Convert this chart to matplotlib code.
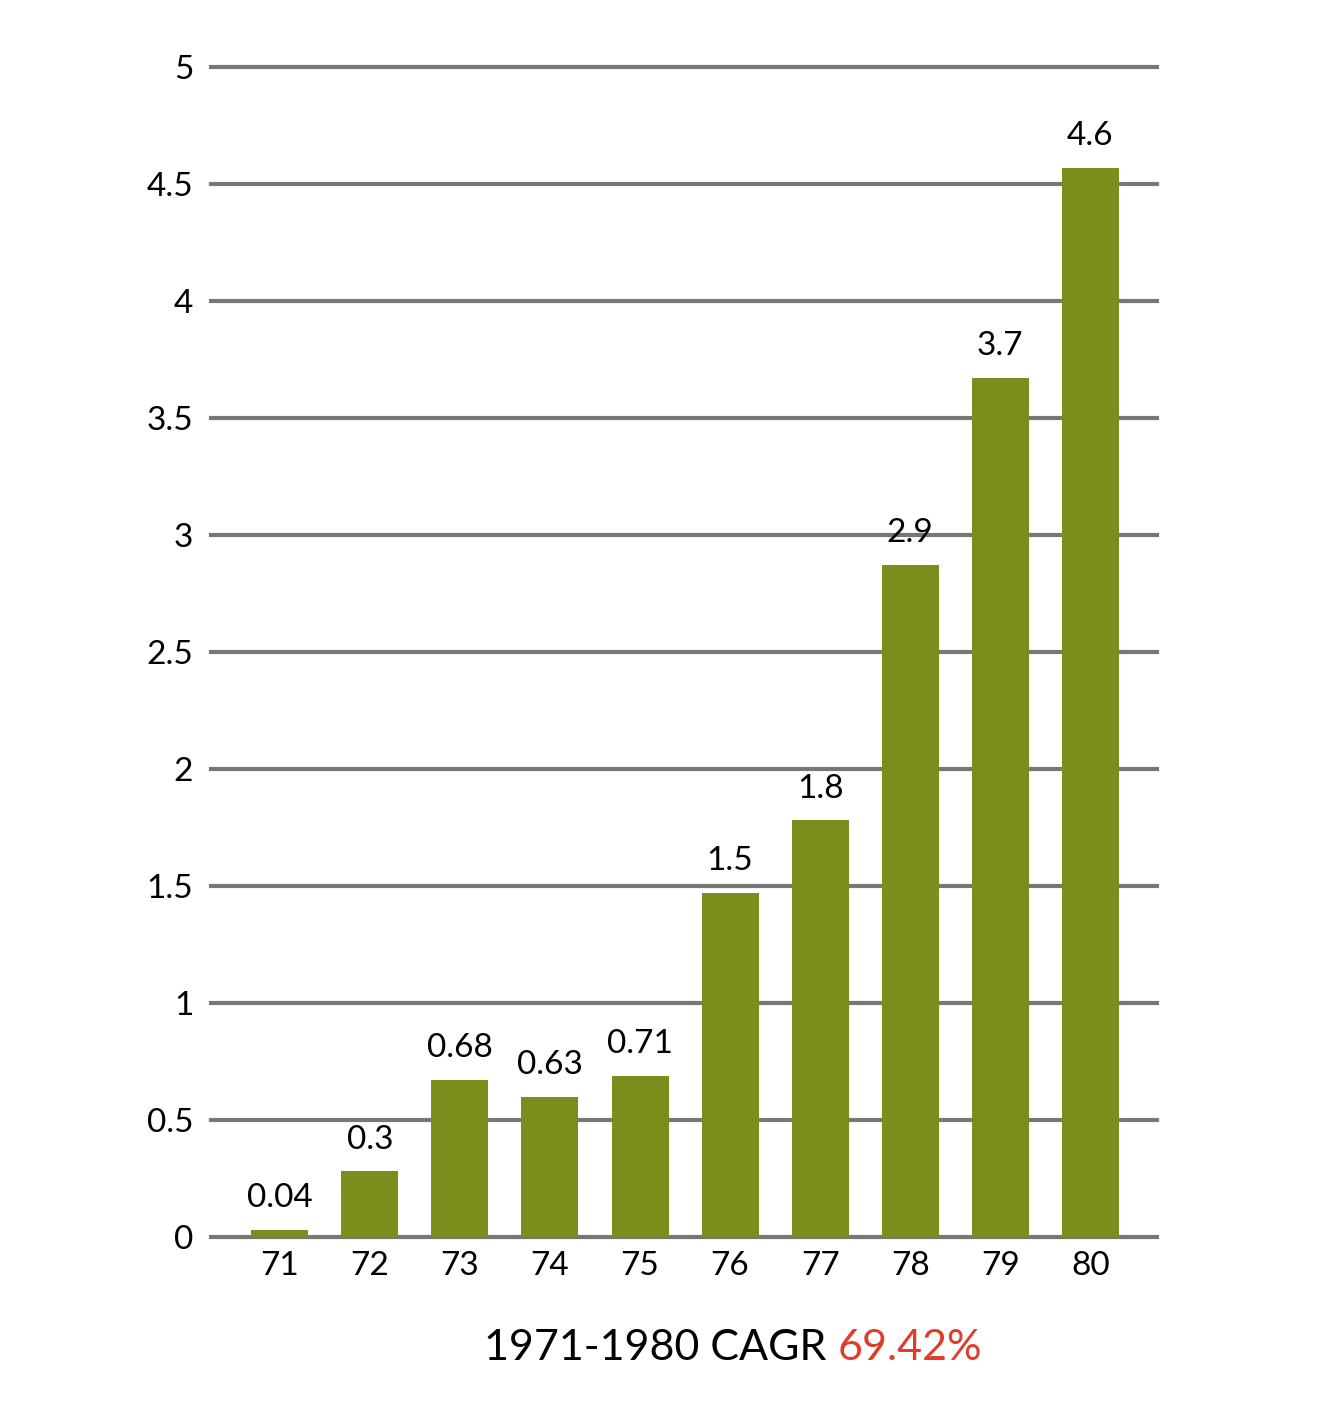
import matplotlib
matplotlib.use("Agg")
import matplotlib.pyplot as plt
import numpy as np

plt.rcParams['font.family'] = ['Lato', 'DejaVu Sans']

# datos
years = ['71', '72', '73', '74', '75', '76', '77', '78', '79', '80']
heights = [0.03, 0.28, 0.67, 0.60, 0.69, 1.47, 1.78, 2.87, 3.67, 4.57]
labels = ['0.04', '0.3', '0.68', '0.63', '0.71', '1.5', '1.8', '2.9', '3.7', '4.6']
y_ticks = [0, 0.5, 1, 1.5, 2, 2.5, 3, 3.5, 4, 4.5, 5]
y_tick_labels = ['0', '0.5', '1', '1.5', '2', '2.5', '3', '3.5', '4', '4.5', '5']
title_black = '1971-1980 CAGR '
title_red = '69.42%'

BAR_COLOR = '#7a8e1c'
GRID_COLOR = '#777777'
RED = '#e03c2c'

fig = plt.figure(figsize=(13.42, 14.22), dpi=100)
ax = fig.add_axes([0.1575, 0.1301, 0.862 - 0.1575, 0.9529 - 0.1301])

x = np.arange(len(years))
ax.bar(x, heights, width=0.633, color=BAR_COLOR, zorder=3)

for xi, h, lab in zip(x, heights, labels):
    ax.annotate(lab, (xi, h), xytext=(0, 16.5), textcoords='offset points',
                ha='center', va='baseline', fontsize=24, color='black', zorder=4)

ax.set_xlim(-0.76, 9.738)
ax.set_ylim(0, 5)
ax.set_yticks(y_ticks)
ax.set_yticklabels(y_tick_labels)
ax.set_xticks(x)
ax.set_xticklabels(years)
ax.tick_params(axis='both', length=0, labelsize=24)
ax.tick_params(axis='y', pad=13)
ax.tick_params(axis='x', pad=10)
for s in ax.spines.values():
    s.set_visible(False)

for yt in y_ticks:
    ax.axhline(yt, color=GRID_COLOR, linewidth=3, zorder=1, clip_on=False)

# titulo inferior en dos colores
t1 = fig.text(0.546, 0.0436, title_black, fontsize=31, color='black',
              ha='left', va='baseline')
t2 = fig.text(0.546, 0.0436, title_red, fontsize=31, color=RED,
              ha='left', va='baseline')
fig.canvas.draw()
r = fig.canvas.get_renderer()
w1 = t1.get_window_extent(r).width / fig.bbox.width
w2 = t2.get_window_extent(r).width / fig.bbox.width
start = 0.546 - (w1 + w2) / 2
t1.set_x(start)
t2.set_x(start + w1)

fig.savefig('out.png', dpi=100, facecolor='white')
